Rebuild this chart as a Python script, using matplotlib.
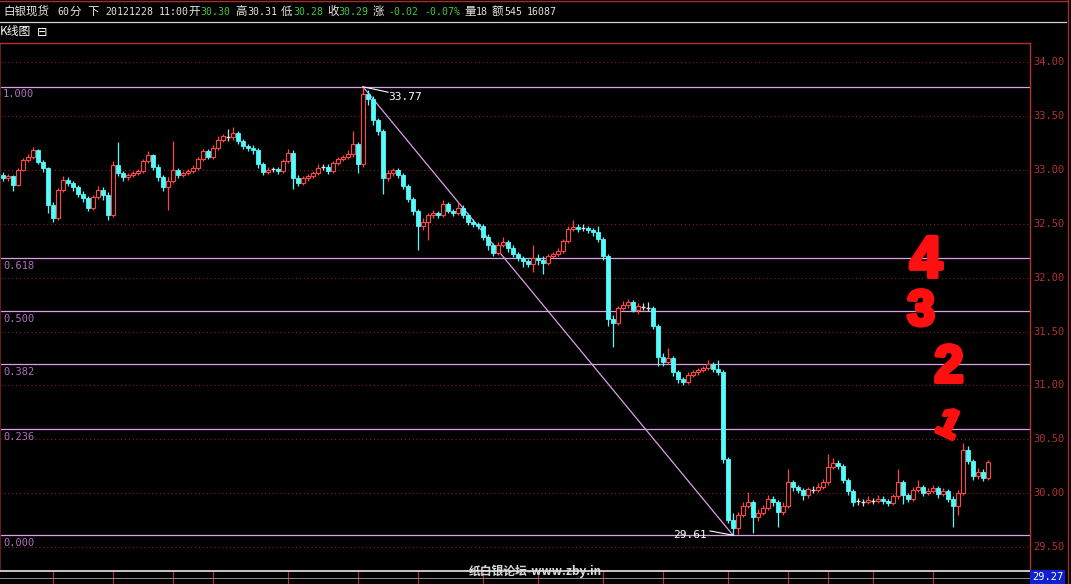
import matplotlib
matplotlib.use('Agg')
import matplotlib.pyplot as plt
import matplotlib.patheffects as pe
from matplotlib.lines import Line2D
from matplotlib.transforms import blended_transform_factory
import numpy as np

W, H = 1071, 584

# 60 minute silver candles (open = previous close)
first_open = 32.95
closes = [
    32.92, 32.94, 32.86, 33.00, 33.09, 33.12, 33.18, 33.07, 33.02, 32.67,
    32.55, 32.81, 32.91, 32.88, 32.84, 32.78, 32.74, 32.65, 32.75, 32.81,
    32.77, 32.58, 33.04, 32.97, 32.93, 32.95, 32.97, 32.99, 33.08, 33.14,
    33.03, 32.93, 32.84, 32.90, 33.00, 32.95, 32.97, 32.99, 33.02, 33.10,
    33.17, 33.12, 33.20, 33.28, 33.31, 33.30, 33.34, 33.27, 33.22, 33.20,
    33.18, 33.05, 32.98, 33.00, 33.01, 32.99, 33.08, 33.16, 32.92, 32.88,
    32.92, 32.94, 32.97, 33.02, 33.03, 32.99, 33.06, 33.10, 33.12, 33.15,
    33.24, 33.05, 33.70, 33.66, 33.46, 33.36, 32.92, 32.97, 33.00, 32.95,
    32.85, 32.73, 32.62, 32.48, 32.52, 32.58, 32.60, 32.58, 32.68, 32.62,
    32.60, 32.65, 32.58, 32.52, 32.50, 32.48, 32.38, 32.30, 32.23, 32.30,
    32.33, 32.27, 32.22, 32.18, 32.15, 32.13, 32.18, 32.16, 32.14, 32.20,
    32.22, 32.25, 32.34, 32.45, 32.47, 32.45, 32.46, 32.44, 32.42, 32.36,
    32.20, 31.62, 31.58, 31.72, 31.75, 31.77, 31.70, 31.74, 31.73, 31.72,
    31.55, 31.26, 31.22, 31.25, 31.12, 31.06, 31.03, 31.10, 31.12, 31.14,
    31.16, 31.20, 31.15, 31.12, 30.32, 29.75, 29.68, 29.80, 29.88, 29.92,
    29.78, 29.82, 29.86, 29.95, 29.92, 29.83, 29.88, 30.10, 30.06, 30.03,
    29.98, 30.04, 30.03, 30.06, 30.10, 30.24, 30.28, 30.25, 30.12, 30.02,
    29.92, 29.93, 29.92, 29.94, 29.93, 29.95, 29.93, 29.91, 29.97, 30.10,
    29.98, 29.95, 30.03, 30.06, 30.00, 30.02, 30.05, 29.99, 30.02, 29.95,
    29.88, 30.00, 30.40, 30.30, 30.16, 30.20, 30.14, 30.29,
]
highs = [
    32.98, 32.96, 32.95, 33.02, 33.11, 33.15, 33.21, 33.19, 33.09, 33.03,
    32.70, 32.83, 32.94, 32.93, 32.90, 32.86, 32.80, 32.76, 32.77, 32.85,
    32.84, 32.79, 33.08, 33.26, 32.99, 32.97, 32.99, 33.01, 33.10, 33.17,
    33.15, 33.05, 32.95, 32.93, 33.27, 33.02, 32.99, 33.01, 33.04, 33.12,
    33.19, 33.19, 33.23, 33.31, 33.33, 33.38, 33.40, 33.36, 33.29, 33.24,
    33.23, 33.20, 33.07, 33.03, 33.03, 33.03, 33.10, 33.19, 33.18, 32.95,
    32.94, 32.96, 32.99, 33.05, 33.05, 33.05, 33.08, 33.12, 33.14, 33.18,
    33.36, 33.26, 33.77, 33.74, 33.68, 33.48, 33.38, 33.00, 33.02, 33.02,
    32.97, 32.87, 32.75, 32.64, 32.55, 32.60, 32.63, 32.62, 32.72, 32.70,
    32.64, 32.70, 32.67, 32.60, 32.54, 32.52, 32.50, 32.40, 32.32, 32.33,
    32.38, 32.35, 32.30, 32.24, 32.20, 32.17, 32.30, 32.22, 32.20, 32.22,
    32.24, 32.27, 32.36, 32.48, 32.53, 32.50, 32.50, 32.48, 32.46, 32.48,
    32.38, 32.22, 31.65, 31.74, 31.78, 31.80, 31.79, 31.76, 31.76, 31.77,
    31.74, 31.57, 31.30, 31.35, 31.27, 31.14, 31.08, 31.12, 31.14, 31.16,
    31.18, 31.24, 31.22, 31.24, 31.14, 30.34, 29.82, 29.83, 29.92, 30.01,
    29.94, 29.85, 29.89, 29.98, 29.97, 29.94, 29.92, 30.22, 30.12, 30.08,
    30.05, 30.06, 30.07, 30.09, 30.13, 30.36, 30.33, 30.31, 30.27, 30.14,
    30.04, 29.96, 29.95, 29.97, 29.96, 29.98, 29.97, 29.95, 29.99, 30.22,
    30.12, 30.00, 30.06, 30.12, 30.08, 30.05, 30.08, 30.07, 30.05, 30.04,
    29.97, 30.03, 30.47, 30.44, 30.32, 30.23, 30.22, 30.31,
]
lows = [
    32.90, 32.90, 32.80, 32.85, 32.99, 33.07, 33.10, 33.05, 32.98, 32.60,
    32.52, 32.53, 32.79, 32.85, 32.80, 32.75, 32.70, 32.62, 32.63, 32.73,
    32.72, 32.53, 32.56, 32.94, 32.90, 32.91, 32.93, 32.95, 32.97, 33.06,
    33.00, 32.90, 32.80, 32.63, 32.88, 32.92, 32.93, 32.95, 32.97, 33.00,
    33.08, 33.10, 33.10, 33.18, 33.26, 33.27, 33.28, 33.24, 33.19, 33.17,
    33.15, 33.02, 32.95, 32.96, 32.98, 32.96, 32.97, 33.06, 32.82, 32.85,
    32.86, 32.90, 32.92, 32.95, 33.00, 32.96, 32.97, 33.04, 33.08, 33.10,
    33.12, 32.97, 33.03, 33.60, 33.42, 33.32, 32.78, 32.90, 32.94, 32.92,
    32.82, 32.70, 32.58, 32.26, 32.44, 32.35, 32.55, 32.55, 32.56, 32.60,
    32.57, 32.58, 32.55, 32.49, 32.47, 32.45, 32.35, 32.26, 32.20, 32.21,
    32.28, 32.24, 32.19, 32.15, 32.10, 32.10, 32.05, 32.12, 32.03, 32.12,
    32.18, 32.20, 32.23, 32.32, 32.43, 32.42, 32.43, 32.41, 32.39, 32.33,
    32.16, 31.55, 31.36, 31.56, 31.70, 31.72, 31.68, 31.66, 31.70, 31.69,
    31.52, 31.18, 31.18, 31.20, 31.09, 31.02, 31.00, 31.01, 31.08, 31.10,
    31.12, 31.14, 31.12, 31.10, 30.28, 29.72, 29.61, 29.62, 29.78, 29.86,
    29.63, 29.74, 29.80, 29.84, 29.88, 29.69, 29.80, 29.86, 30.02, 30.00,
    29.94, 29.96, 30.00, 30.01, 30.04, 30.08, 30.22, 30.22, 30.09, 29.98,
    29.88, 29.89, 29.88, 29.90, 29.90, 29.91, 29.90, 29.88, 29.89, 29.95,
    29.90, 29.92, 29.93, 30.01, 29.97, 29.98, 30.00, 29.96, 29.97, 29.92,
    29.69, 29.80, 29.98, 30.27, 30.12, 30.13, 30.11, 30.12,
]
fib_ratios = [0.0, 0.236, 0.382, 0.5, 0.618, 1.0]
fib_labels = ['0.000', '0.236', '0.382', '0.500', '0.618', '1.000']
price_ticks = [29.5, 30.0, 30.5, 31.0, 31.5, 32.0, 32.5, 33.0, 33.5, 34.0]
day_ticks = [10, 22, 34, 42, 57, 71, 83, 96, 107, 120, 132, 145, 157, 165, 174, 186]

CJK = ['Noto Sans CJK SC', 'DejaVu Sans']
MONO = ['DejaVu Sans Mono', 'Noto Sans CJK SC']
RED = '#ff4646'
CYAN = '#54fcfc'
FIB = '#dca0e6'
GRID = '#8c2020'
AXRED = '#b43232'


def fx(x):
    return x / W


def fy(y):
    return 1 - y / H


fig = plt.figure(figsize=(W / 100, H / 100), dpi=100, facecolor='black')

# price axis: pixel y = 62 + (34 - p) * 107.8
ax_top, ax_bot = 43, 571
ax = fig.add_axes([0, fy(ax_bot), fx(1030), (ax_bot - ax_top) / H], facecolor='black')
ax.set_ylim(34 - (ax_bot - 62) / 107.8, 34 + (62 - ax_top) / 107.8)
ax.set_xlim(-0.6, 205.4)

closes = np.array(closes)
opens = np.concatenate([[first_open], closes[:-1]])
highs = np.array(highs)
lows = np.array(lows)
idx = np.arange(len(closes))

up = closes - opens > 0.015
down = opens - closes > 0.015
flat = ~(up | down)

# wicks
wick_col = np.where(up, RED, np.where(down, CYAN, '#d8d8d8'))
ax.vlines(idx, lows, highs, colors=list(wick_col), lw=0.9, zorder=2)
# bodies
ax.bar(idx[up], (closes - opens)[up], bottom=opens[up], width=0.7,
       facecolor='black', edgecolor=RED, lw=0.8, zorder=3)
ax.bar(idx[down], (opens - closes)[down], bottom=closes[down], width=0.7,
       facecolor=CYAN, edgecolor=CYAN, lw=0.6, zorder=3)
ax.hlines(closes[flat], idx[flat] - 0.38, idx[flat] + 0.38, colors='#e0e0e0', lw=1, zorder=3)

# dotted price grid
for p in price_ticks:
    ax.axhline(p, color=GRID, lw=0.8, ls=(0, (1, 2.5)), zorder=1)

# fibonacci levels
i_hi = int(np.argmax(highs))
i_lo = int(np.argmin(lows))
hi, lo = highs[i_hi], lows[i_lo]
trans_l = blended_transform_factory(ax.transAxes, ax.transData)
for r, lab in zip(fib_ratios, fib_labels):
    lv = lo + r * (hi - lo)
    ax.axhline(lv, color=FIB, lw=0.9, zorder=1.5)
    ax.text(0.003, lv - 0.025, lab, transform=trans_l, color='#b070c0',
            fontsize=7.5, family=MONO, va='top', ha='left')
ax.plot([i_hi, i_lo], [hi, lo], color=FIB, lw=0.9, zorder=1.5)

# price marks at the extremes
ax.plot([i_hi, i_hi + 5], [hi, hi - 0.05], color='white', lw=0.8, zorder=4)
ax.text(i_hi + 5, hi - 0.05, '%.2f' % hi, color='white', fontsize=8, family=MONO,
        va='top', ha='left', zorder=4)
ax.plot([i_lo, i_lo - 4.6], [lo, lo + 0.04], color='white', lw=0.8, zorder=4)
ax.text(i_lo - 5.2, lo, '%.2f' % lo, color='white', fontsize=8, family=MONO,
        va='center', ha='right', zorder=4)

# right price labels
trans_r = blended_transform_factory(ax.transAxes, ax.transData)
for p in price_ticks:
    ax.text(1.003, p, '%.2f' % p, transform=trans_r, color=AXRED, fontsize=7.5,
            family=MONO, va='center', ha='left', clip_on=False)

for s in ['top', 'right']:
    ax.spines[s].set_color(AXRED)
    ax.spines[s].set_linewidth(1)
ax.spines['left'].set_color('#602020')
ax.spines['bottom'].set_color('#e8e8e8')
ax.spines['bottom'].set_linewidth(1.2)
ax.set_yticks([])
ax.set_xticks(day_ticks)
ax.set_xticklabels([])
ax.tick_params(axis='x', colors=AXRED, length=9, width=0.8, direction='out')

# frame, header and separators
fig.add_artist(Line2D([0, fx(1068)], [fy(0.5), fy(0.5)], color='#a03030', lw=1))
fig.add_artist(Line2D([fx(1068), fx(1068)], [0, 1], color='#a03030', lw=1))
fig.add_artist(Line2D([0, fx(1066)], [fy(22), fy(22)], color='#d0d0d0', lw=0.9))
fig.add_artist(Line2D([0, fx(1030)], [fy(578), fy(578)], color='#909090', lw=0.7))

WHITE = '#e6e6dc'
GREEN = '#46c846'
# (x, text, colour, is_cjk)
header = [
    (3, '白银现货', WHITE, True), (57, '60', WHITE, False), (69, '分', WHITE, True),
    (87, '下', WHITE, True), (105, '20121228', WHITE, False), (159, '11:00', WHITE, False),
    (188, '开', WHITE, True), (200, '30.30', GREEN, False), (235, '高', WHITE, True),
    (247, '30.31', WHITE, False), (281, '低', WHITE, True), (293, '30.28', GREEN, False),
    (327, '收', WHITE, True), (338, '30.29', GREEN, False), (373, '涨', WHITE, True),
    (388, '-0.02', GREEN, False), (424, '-0.07%', GREEN, False), (464, '量', WHITE, True),
    (476, '18', WHITE, False), (492, '额', WHITE, True), (504, '545', WHITE, False),
    (527, '16087', WHITE, False),
]
for x, t, c, cjk in header:
    if cjk:
        fig.text(fx(x), fy(11), t, color=c, fontsize=8.3, family=CJK, va='center', ha='left')
    else:
        fig.text(fx(x), fy(12), t, color=c, fontsize=7.1, family=MONO, va='center', ha='left')

fig.text(fx(0), fy(31), 'K线图', color='white', fontsize=8.5, family=CJK, va='center')
fig.text(fx(37), fy(32), '⊟', color='white', fontsize=9, family=['DejaVu Sans'], va='center')

fig.text(fx(535), fy(571), '纸白银论坛-www.zby.in', color='#dcdcdc', fontsize=8.5,
         family=CJK, fontweight='bold', ha='center', va='center')
fig.text(fx(1032), fy(577), '29.27', color='white', fontsize=7.5, family=MONO,
         va='center', ha='left',
         bbox=dict(facecolor='#1020d0', edgecolor='none', pad=1.2))

# hand-written wave count
hand = dict(color='#ff1010', fontweight='bold', family=['Liberation Sans', 'DejaVu Sans'],
            ha='center', va='center',
            path_effects=[pe.withStroke(linewidth=3, foreground='#ff1010')])
fig.text(fx(926), fy(262), '4', fontsize=42, **hand)
fig.text(fx(921), fy(312), '3', fontsize=36, **hand)
fig.text(fx(949), fy(368), '2', fontsize=38, **hand)
fig.text(fx(948), fy(426), '1', fontsize=28, rotation=-25, **hand)

fig.savefig('out.png', dpi=100, facecolor='black')
